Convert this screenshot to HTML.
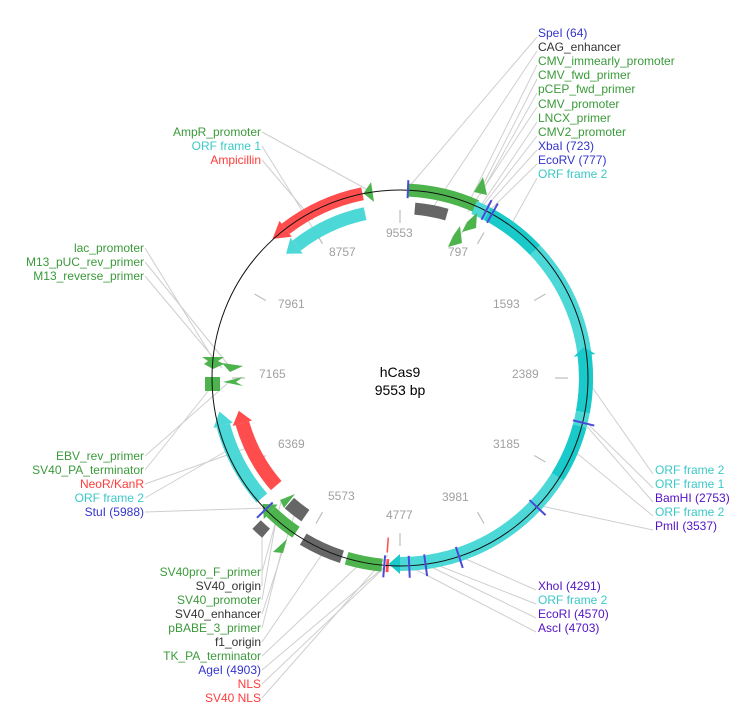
<!DOCTYPE html>
<html><head><meta charset="utf-8"><style>
html,body{margin:0;padding:0;background:#fff;}
svg{display:block;}
text{font-family:"Liberation Sans",Arial,sans-serif;font-size:12px;}
.g{fill:#3a9a3a}.k{fill:#333}.b{fill:#3333cc}.p{fill:#5212c4}.c{fill:#3cc8c8}.r{fill:#ff3b3b}
.t{fill:#a0a0a0}
</style></head><body>
<svg width="745" height="725" viewBox="0 0 745 725" xmlns="http://www.w3.org/2000/svg">
<rect width="745" height="725" fill="#fff"/>
<!-- leader lines -->
<g stroke="#cfcfcf" stroke-width="1" fill="none">
<line x1="537" y1="37" x2="408" y2="188"/>
<line x1="537" y1="51" x2="430" y2="212"/>
<line x1="537" y1="65" x2="470" y2="200"/>
<line x1="537" y1="79" x2="483" y2="185"/>
<line x1="537" y1="93" x2="480" y2="195"/>
<line x1="537" y1="107" x2="468" y2="212"/>
<line x1="537" y1="122" x2="470" y2="222"/>
<line x1="537" y1="136" x2="458" y2="238"/>
<line x1="537" y1="150" x2="483" y2="210"/>
<line x1="537" y1="164" x2="488" y2="212"/>
<line x1="537" y1="178" x2="512" y2="223"/>
<line x1="653" y1="474" x2="587" y2="380"/>
<line x1="653" y1="488" x2="583" y2="419"/>
<line x1="653" y1="502" x2="584" y2="423"/>
<line x1="653" y1="516" x2="573" y2="450"/>
<line x1="653" y1="530" x2="541" y2="506"/>
<line x1="536" y1="590" x2="459" y2="556"/>
<line x1="536" y1="604" x2="432" y2="563"/>
<line x1="536" y1="618" x2="425" y2="564"/>
<line x1="536" y1="632" x2="409" y2="566"/>
<line x1="262" y1="132" x2="368" y2="190"/>
<line x1="262" y1="146" x2="322" y2="243"/>
<line x1="262" y1="160" x2="313" y2="220"/>
<line x1="145" y1="248" x2="215" y2="362"/>
<line x1="145" y1="262" x2="230" y2="367"/>
<line x1="145" y1="276" x2="222" y2="368"/>
<line x1="145" y1="456" x2="228" y2="383"/>
<line x1="145" y1="470" x2="213" y2="385"/>
<line x1="145" y1="484" x2="250" y2="447"/>
<line x1="145" y1="498" x2="228" y2="450"/>
<line x1="145" y1="512" x2="266" y2="508"/>
<line x1="262" y1="572" x2="281" y2="502"/>
<line x1="262" y1="586" x2="262" y2="530"/>
<line x1="262" y1="600" x2="277" y2="515"/>
<line x1="262" y1="614" x2="296" y2="510"/>
<line x1="262" y1="628" x2="283" y2="545"/>
<line x1="262" y1="642" x2="325" y2="550"/>
<line x1="262" y1="656" x2="362" y2="562"/>
<line x1="262" y1="670" x2="384" y2="567"/>
<line x1="262" y1="684" x2="387" y2="565"/>
<line x1="262" y1="698" x2="388" y2="555"/>
</g>

<!-- ticks -->
<g stroke="#bdbdbd" stroke-width="1.2">
<line x1="400" y1="210" x2="400" y2="223" transform="rotate(0 400 378)"/>
<line x1="400" y1="210" x2="400" y2="223" transform="rotate(30 400 378)"/>
<line x1="400" y1="210" x2="400" y2="223" transform="rotate(60 400 378)"/>
<line x1="400" y1="210" x2="400" y2="223" transform="rotate(90 400 378)"/>
<line x1="400" y1="210" x2="400" y2="223" transform="rotate(120 400 378)"/>
<line x1="400" y1="210" x2="400" y2="223" transform="rotate(150 400 378)"/>
<line x1="400" y1="210" x2="400" y2="223" transform="rotate(180 400 378)"/>
<line x1="400" y1="210" x2="400" y2="223" transform="rotate(210 400 378)"/>
<line x1="400" y1="210" x2="400" y2="223" transform="rotate(240 400 378)"/>
<line x1="400" y1="210" x2="400" y2="223" transform="rotate(270 400 378)"/>
<line x1="400" y1="210" x2="400" y2="223" transform="rotate(300 400 378)"/>
<line x1="400" y1="210" x2="400" y2="223" transform="rotate(330 400 378)"/>
</g>

<!-- features -->
<g fill="none">
<!-- top green CAG/CMV -->
<circle cx="400" cy="378" r="188" stroke="#4db34d" stroke-width="13" stroke-dasharray="70.87 3000" transform="rotate(-87.6 400 378)"/>
<!-- top gray -->
<circle cx="400" cy="378" r="170" stroke="#666" stroke-width="12" stroke-dasharray="32.64 3000" transform="rotate(-85 400 378)"/>
<!-- cyan big ring -->
<circle cx="400" cy="378" r="186" stroke="#4dd8d8" stroke-width="14" stroke-dasharray="509.7 3000" transform="rotate(-66.5 400 378)"/>
<circle cx="400" cy="378" r="186" stroke="#1ac9c9" stroke-width="14" stroke-dasharray="60.06 3000" transform="rotate(-62 400 378)"/>
<circle cx="400" cy="378" r="186" stroke="#1ac9c9" stroke-width="14" stroke-dasharray="60.1 3000" transform="rotate(-8 400 378)"/>
<circle cx="400" cy="378" r="186" stroke="#1ac9c9" stroke-width="14" stroke-dasharray="55.19 3000" transform="rotate(15 400 378)"/>
<!-- ampicillin red -->
<circle cx="400" cy="378" r="188" stroke="#ff4d4d" stroke-width="13" stroke-dasharray="85.31 3000" transform="rotate(232.5 400 378)"/>
<!-- ORF frame 1 cyan inner -->
<circle cx="400" cy="378" r="168" stroke="#4dd8d8" stroke-width="13" stroke-dasharray="76.24 3000" transform="rotate(232 400 378)"/>
<!-- bottom TK green -->
<circle cx="400" cy="378" r="188" stroke="#4db34d" stroke-width="13" stroke-dasharray="36.09 3000" transform="rotate(95.5 400 378)"/>
<!-- f1 gray -->
<circle cx="400" cy="378" r="188" stroke="#666" stroke-width="13" stroke-dasharray="42.66 3000" transform="rotate(108 400 378)"/>
<!-- NLS red box -->
<circle cx="400" cy="378" r="188" stroke="#ff4d4d" stroke-width="13" stroke-dasharray="2.9 3000" transform="rotate(93.4 400 378)"/>
<!-- SV40 green arrow -->
<circle cx="400" cy="378" r="186" stroke="#4db34d" stroke-width="13" stroke-dasharray="32.46 3000" transform="rotate(124 400 378)"/>
<!-- SV40 gray inner -->
<circle cx="400" cy="378" r="167" stroke="#666" stroke-width="14" stroke-dasharray="20.4 3000" transform="rotate(124.5 400 378)"/>
<!-- small gray outer -->
<circle cx="400" cy="378" r="205" stroke="#666" stroke-width="12" stroke-dasharray="12.9 3000" transform="rotate(130.8 400 378)"/>
<!-- left cyan ORF frame 2 -->
<circle cx="400" cy="378" r="183" stroke="#4dd8d8" stroke-width="14" stroke-dasharray="83.04 3000" transform="rotate(139 400 378)"/>
<!-- NeoR red -->
<circle cx="400" cy="378" r="164" stroke="#ff4d4d" stroke-width="14" stroke-dasharray="71.56 3000" transform="rotate(139 400 378)"/>
</g>

<!-- arrowheads -->
<polygon points="400,181 400,203 391.9,192" fill="#1ac9c9" transform="rotate(83 400 378)"/>
<polygon points="400,182 400,202 411.4,192" fill="#1ac9c9" transform="rotate(180 400 378)"/>
<polygon points="400,180 400,200 383.6,190" fill="#ff4d4d" transform="rotate(322.5 400 378)"/>
<polygon points="400,200 400,220 386.8,210" fill="#4dd8d8" transform="rotate(322 400 378)"/>
<polygon points="400,180 400,200 390.8,190" fill="#4db34d" transform="rotate(351.6 400 378)"/>
<polygon points="400,182 400,202 411.4,192" fill="#4db34d" transform="rotate(224 400 378)"/>
<polygon points="400,185 400,205 414.4,195" fill="#4dd8d8" transform="rotate(255 400 378)"/>
<polygon points="400,204 400,224 412.9,214" fill="#ff4d4d" transform="rotate(254 400 378)"/>

<!-- misc green shapes -->
<g fill="#4db34d">
<polygon points="483,177 487,195 474,192"/>
<polygon points="477,213 476,228 462,232 467,222"/>
<polygon points="460,226 462,243 448,247 453,236"/>
<polygon points="280,500 295,494 284,508"/>
<polygon points="273,552 287,539 283,553"/>
<polygon points="202,357 224,357 218,361 224,364 213,369 204,364 208,361"/>
<polygon points="222,363 243,366 230,372"/>
<rect x="205" y="377" width="15" height="14"/>
<polygon points="243,377 223,382 243,386 236,382"/>
</g>
<line x1="400" y1="203" x2="400" y2="218" stroke="#ff4d4d" stroke-width="1.5" transform="rotate(184.2 400 378)"/>

<!-- backbone circle -->
<circle cx="400" cy="378" r="188" fill="none" stroke="#111" stroke-width="1"/>

<!-- restriction sites -->
<g stroke="#4a4ad8" stroke-width="2">
<line x1="400" y1="180" x2="400" y2="198" transform="rotate(2.41 400 378)"/>
<line x1="400" y1="178" x2="400" y2="200" transform="rotate(27.25 400 378)"/>
<line x1="400" y1="178" x2="400" y2="200" transform="rotate(29.28 400 378)"/>
<line x1="400" y1="178" x2="400" y2="200" transform="rotate(103.75 400 378)"/>
<line x1="400" y1="178" x2="400" y2="200" transform="rotate(133.3 400 378)"/>
<line x1="400" y1="178" x2="400" y2="200" transform="rotate(161.7 400 378)"/>
<line x1="400" y1="178" x2="400" y2="200" transform="rotate(172.2 400 378)"/>
<line x1="400" y1="178" x2="400" y2="200" transform="rotate(177.2 400 378)"/>
<line x1="400" y1="178" x2="400" y2="200" transform="rotate(184.8 400 378)"/>
<line x1="400" y1="178" x2="400" y2="200" transform="rotate(225.66 400 378)"/>
</g>

<!-- tick labels -->
<g class="t">
<text x="386" y="237" class="t">9553</text>
<text x="448" y="256" class="t">797</text>
<text x="493" y="308" class="t">1593</text>
<text x="512" y="378" class="t">2389</text>
<text x="493" y="448" class="t">3185</text>
<text x="442" y="501" class="t">3981</text>
<text x="386" y="519" class="t">4777</text>
<text x="328" y="500" class="t">5573</text>
<text x="278" y="448" class="t">6369</text>
<text x="259" y="378" class="t">7165</text>
<text x="278" y="308" class="t">7961</text>
<text x="329" y="256" class="t">8757</text>
</g>

<!-- center -->
<text x="400" y="377" text-anchor="middle" style="font-size:14px" fill="#000">hCas9</text>
<text x="400" y="395" text-anchor="middle" style="font-size:14px" fill="#000">9553 bp</text>

<!-- top right labels -->
<text x="538" y="37" class="b">SpeI (64)</text>
<text x="538" y="51" class="k">CAG_enhancer</text>
<text x="538" y="65" class="g">CMV_immearly_promoter</text>
<text x="538" y="79" class="g">CMV_fwd_primer</text>
<text x="538" y="93" class="g">pCEP_fwd_primer</text>
<text x="538" y="108" class="g">CMV_promoter</text>
<text x="538" y="122" class="g">LNCX_primer</text>
<text x="538" y="136" class="g">CMV2_promoter</text>
<text x="538" y="150" class="b">XbaI (723)</text>
<text x="538" y="164" class="b">EcoRV (777)</text>
<text x="538" y="178" class="c">ORF frame 2</text>

<!-- right middle -->
<text x="655" y="474" class="c">ORF frame 2</text>
<text x="655" y="488" class="c">ORF frame 1</text>
<text x="655" y="502" class="p">BamHI (2753)</text>
<text x="655" y="516" class="c">ORF frame 2</text>
<text x="655" y="530" class="p">PmlI (3537)</text>

<!-- bottom right -->
<text x="538" y="590" class="p">XhoI (4291)</text>
<text x="538" y="604" class="c">ORF frame 2</text>
<text x="538" y="618" class="p">EcoRI (4570)</text>
<text x="538" y="632" class="p">AscI (4703)</text>

<!-- left top -->
<g text-anchor="end">
<text x="261" y="136" class="g">AmpR_promoter</text>
<text x="261" y="150" class="c">ORF frame 1</text>
<text x="261" y="164" class="r">Ampicillin</text>

<text x="144" y="252" class="g">lac_promoter</text>
<text x="144" y="266" class="g">M13_pUC_rev_primer</text>
<text x="144" y="280" class="g">M13_reverse_primer</text>

<text x="144" y="460" class="g">EBV_rev_primer</text>
<text x="144" y="474" class="g">SV40_PA_terminator</text>
<text x="144" y="488" class="r">NeoR/KanR</text>
<text x="144" y="502" class="c">ORF frame 2</text>
<text x="144" y="516" class="b">StuI (5988)</text>

<text x="261" y="576" class="g">SV40pro_F_primer</text>
<text x="261" y="590" class="k">SV40_origin</text>
<text x="261" y="604" class="g">SV40_promoter</text>
<text x="261" y="618" class="k">SV40_enhancer</text>
<text x="261" y="632" class="g">pBABE_3_primer</text>
<text x="261" y="646" class="k">f1_origin</text>
<text x="261" y="660" class="g">TK_PA_terminator</text>
<text x="261" y="674" class="b">AgeI (4903)</text>
<text x="261" y="688" class="r">NLS</text>
<text x="261" y="702" class="r">SV40 NLS</text>
</g>
</svg>
</body></html>
